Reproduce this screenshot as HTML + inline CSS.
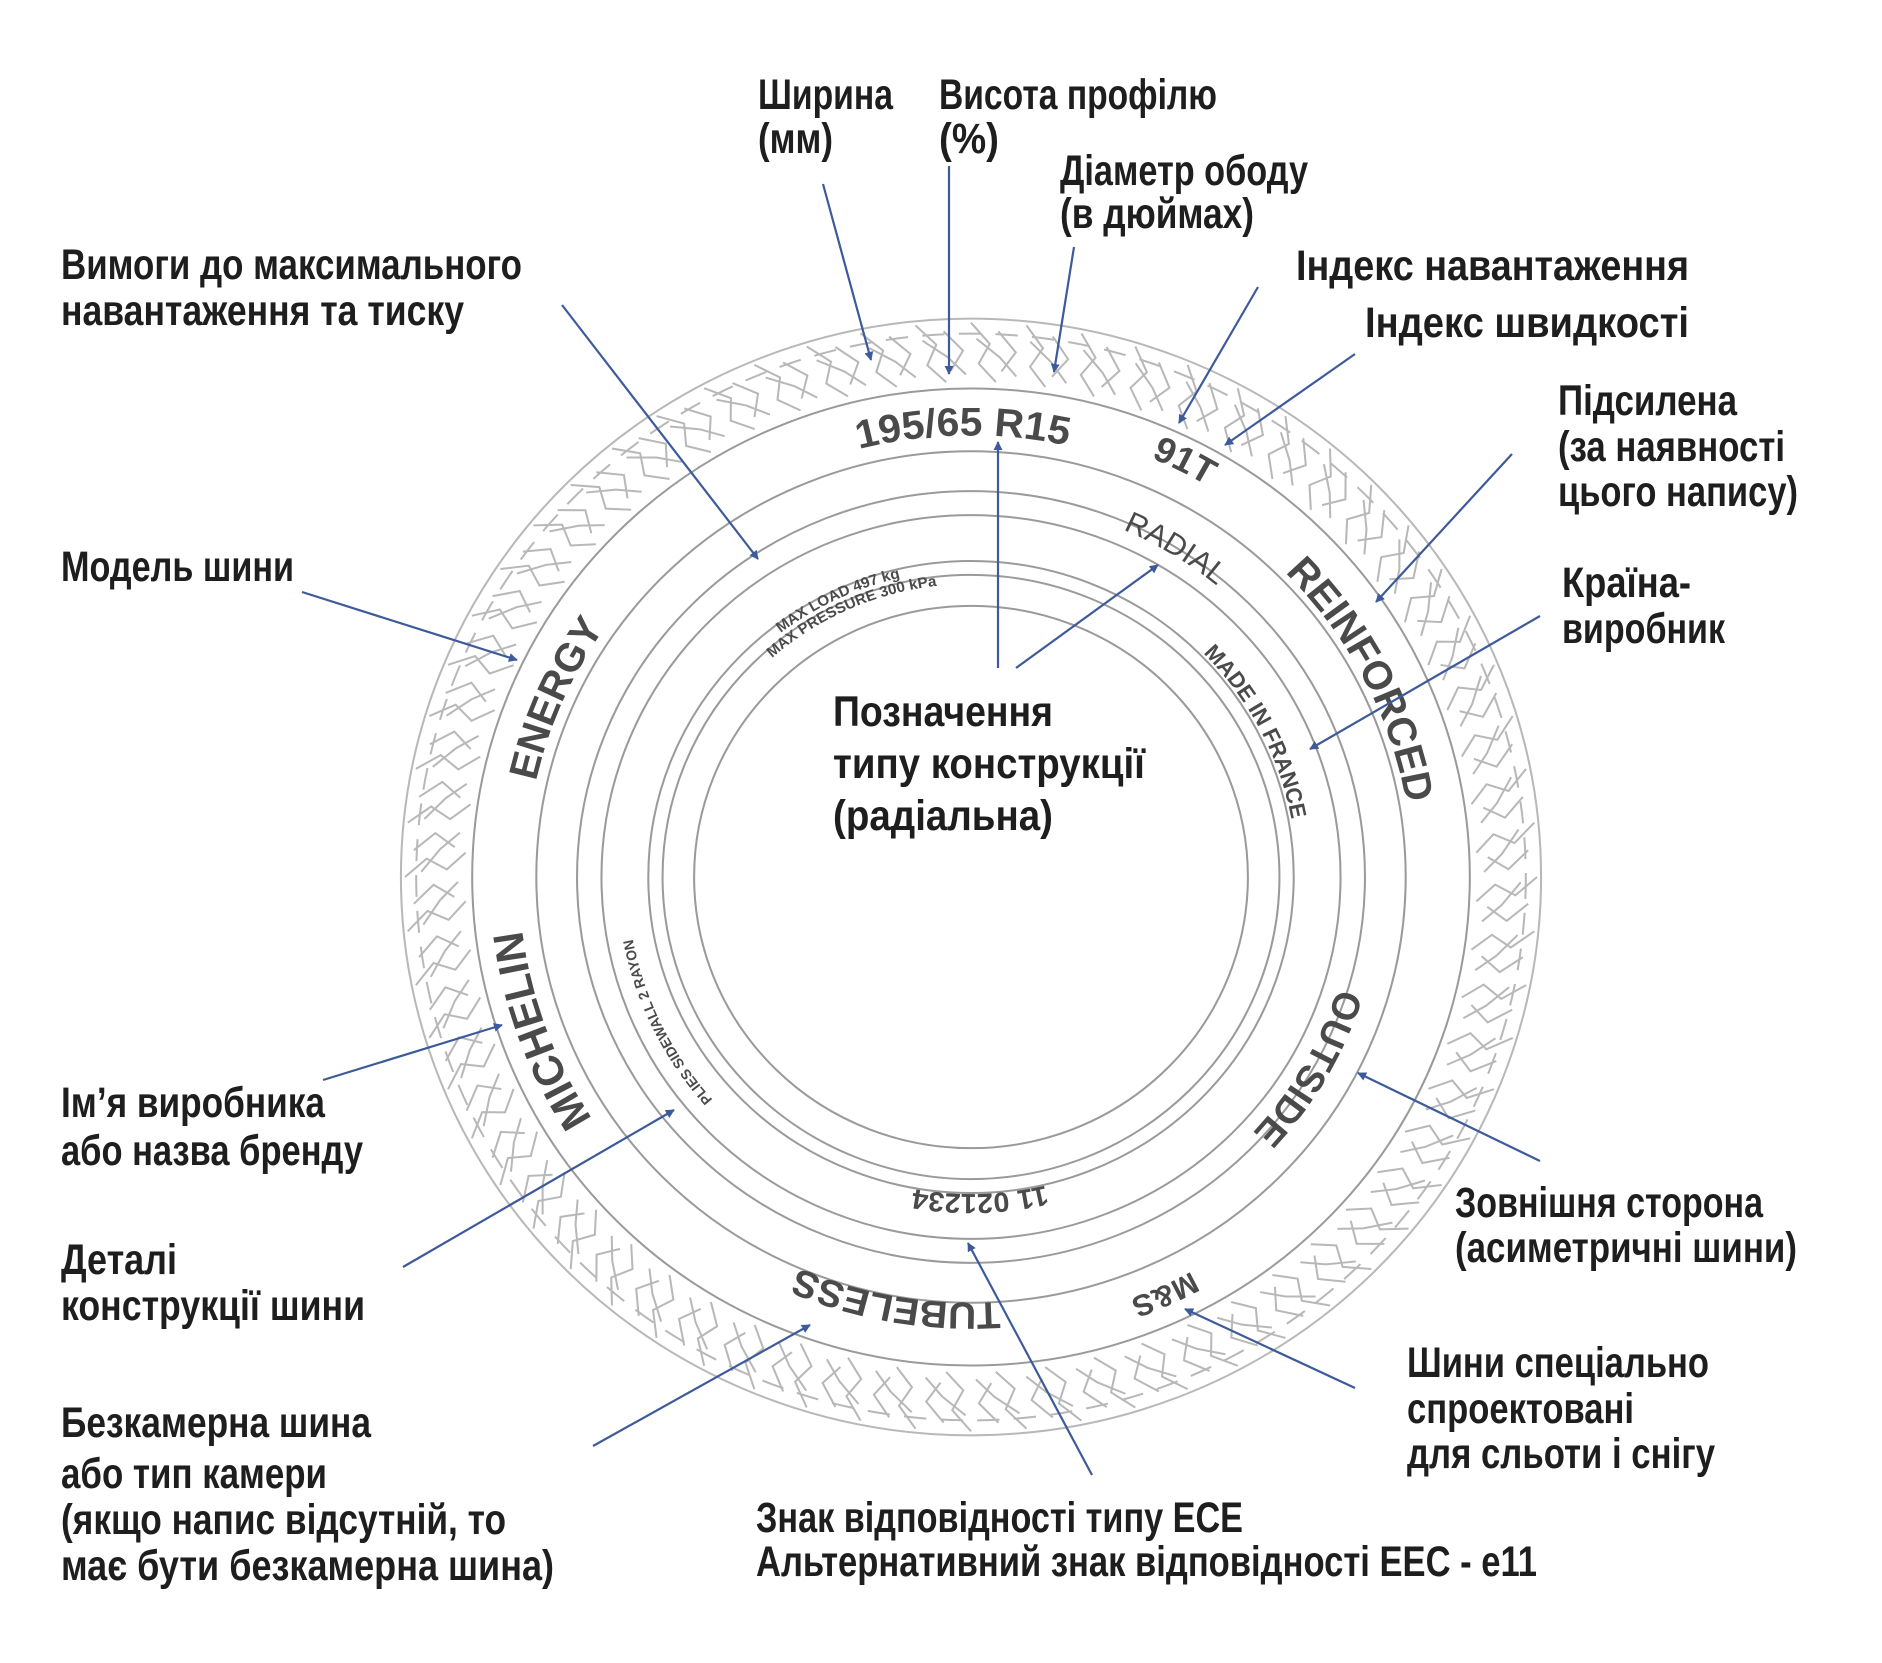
<!DOCTYPE html>
<html><head><meta charset="utf-8">
<style>
html,body{margin:0;padding:0;background:#fff;}
svg{display:block;}
.l{font-family:"Liberation Sans",sans-serif;font-weight:bold;font-size:43px;fill:#1e1e1e;}
.t{font-family:"Liberation Sans",sans-serif;font-weight:bold;fill:#4a4a4a;}
.a{stroke:#3d5a9a;stroke-width:2.2;fill:none;marker-end:url(#ah);}
</style></head>
<body>
<svg id="s" width="1882" height="1663" viewBox="0 0 1882 1663" xmlns="http://www.w3.org/2000/svg">
<defs>
<marker id="ah" viewBox="0 0 10 10" refX="9" refY="5" markerWidth="9" markerHeight="9" markerUnits="userSpaceOnUse" orient="auto"><path d="M0,0 L10,5 L0,10 z" fill="#3d5a9a"/></marker>
</defs>
<rect width="1882" height="1663" fill="#fff"/>
<g transform="translate(971,877) scale(1.018,0.997) translate(-968,-877)">
<g id="tire" fill="none" stroke="#b8b8b8" stroke-width="2">
<circle cx="968" cy="877" r="560"/>
<circle cx="968" cy="877" r="490" stroke="#9a9a9a"/>
<circle cx="968" cy="877" r="427" stroke="#9a9a9a"/>
<circle cx="968" cy="877" r="387" stroke="#9a9a9a"/>
<circle cx="968" cy="877" r="363" stroke="#9a9a9a"/>
<circle cx="968" cy="877" r="317" stroke="#9a9a9a"/>
<circle cx="968" cy="877" r="303" stroke="#9a9a9a"/>
<circle cx="968" cy="877" r="272" stroke="#9a9a9a"/>
<g id="lugs"></g>
</g>
<defs>
<path id="p195" d="M968,434 A443,443 0 1 1 968,1320 A443,443 0 1 1 968,434 A443,443 0 1 1 968,1320 A443,443 0 1 1 968,434"/>
<path id="p91" d="M968,421 A456,456 0 1 1 968,1333 A456,456 0 1 1 968,421 A456,456 0 1 1 968,1333 A456,456 0 1 1 968,421"/>
<path id="prad" d="M968,498 A379,379 0 1 1 968,1256 A379,379 0 1 1 968,498 A379,379 0 1 1 968,1256 A379,379 0 1 1 968,498"/>
<path id="prein" d="M968,443 A434,434 0 1 1 968,1311 A434,434 0 1 1 968,443 A434,434 0 1 1 968,1311 A434,434 0 1 1 968,443"/>
<path id="pmade" d="M968,557 A320,320 0 1 1 968,1197 A320,320 0 1 1 968,557 A320,320 0 1 1 968,1197 A320,320 0 1 1 968,557"/>
<path id="pout" d="M968,500 A377,377 0 1 1 968,1254 A377,377 0 1 1 968,500 A377,377 0 1 1 968,1254 A377,377 0 1 1 968,500"/>
<path id="pms" d="M968,426 A451,451 0 1 1 968,1328 A451,451 0 1 1 968,426 A451,451 0 1 1 968,1328 A451,451 0 1 1 968,426"/>
<path id="p11" d="M968,559 A318,318 0 1 1 968,1195 A318,318 0 1 1 968,559 A318,318 0 1 1 968,1195 A318,318 0 1 1 968,559"/>
<path id="ptub" d="M968,450 A427,427 0 1 1 968,1304 A427,427 0 1 1 968,450 A427,427 0 1 1 968,1304 A427,427 0 1 1 968,450"/>
<path id="pplies" d="M968,539 A338,338 0 1 1 968,1215 A338,338 0 1 1 968,539 A338,338 0 1 1 968,1215 A338,338 0 1 1 968,539"/>
<path id="pmich" d="M968,433 A444,444 0 1 1 968,1321 A444,444 0 1 1 968,433 A444,444 0 1 1 968,1321 A444,444 0 1 1 968,433"/>
<path id="pen" d="M968,439 A438,438 0 1 1 968,1315 A438,438 0 1 1 968,439 A438,438 0 1 1 968,1315 A438,438 0 1 1 968,439"/>
<path id="pml1" d="M968,569 A308,308 0 1 1 968,1185 A308,308 0 1 1 968,569 A308,308 0 1 1 968,1185 A308,308 0 1 1 968,569"/>
<path id="pml2" d="M968,583 A294,294 0 1 1 968,1171 A294,294 0 1 1 968,583 A294,294 0 1 1 968,1171 A294,294 0 1 1 968,583"/>
</defs>
<g class="t" text-anchor="middle">
<text font-size="40"><textPath href="#p195" startOffset="49.86%">195/65 R15</textPath></text>
<text font-size="36"><textPath href="#p91" startOffset="53.71%">91T</textPath></text>
<text font-size="30" font-weight="normal"><textPath href="#prad" startOffset="54.36%">RADIAL</textPath></text>
<text font-size="40"><textPath href="#prein" startOffset="58.71%">REINFORCED</textPath></text>
<text font-size="22"><textPath href="#pmade" startOffset="58.68%">MADE IN FRANCE</textPath></text>
<text font-size="38"><textPath href="#pout" startOffset="66.67%">OUTSIDE</textPath></text>
<text font-size="30"><textPath href="#pms" startOffset="71.6%">M&amp;S</textPath></text>
<text font-size="28"><textPath href="#p11" startOffset="74.78%">11 021234</textPath></text>
<text font-size="38"><textPath href="#ptub" startOffset="26.36%">TUBELESS</textPath></text>
<text font-size="14"><textPath href="#pplies" startOffset="33.89%">PLIES SIDEWALL 2 RAYON</textPath></text>
<text font-size="42"><textPath href="#pmich" startOffset="34.72%">MICHELIN</textPath></text>
<text font-size="40"><textPath href="#pen" startOffset="40.79%">ENERGY</textPath></text>
<text font-size="15"><textPath href="#pml1" startOffset="46.5%">MAX LOAD 497 kg</textPath></text>
<text font-size="15"><textPath href="#pml2" startOffset="46.65%">MAX PRESSURE 300 kPa</textPath></text>
</g>
</g>
<g transform="translate(-6,-3)">
<line class="a" x1="829" y1="187" x2="877" y2="363"/>
<line class="a" x1="955" y1="169" x2="955" y2="377"/>
<line class="a" x1="1080" y1="250" x2="1060" y2="375"/>
<line class="a" x1="1264" y1="290" x2="1185" y2="426"/>
<line class="a" x1="1361" y1="357" x2="1231" y2="448"/>
<line class="a" x1="1518" y1="457" x2="1382" y2="605"/>
<line class="a" x1="1546" y1="619" x2="1316" y2="752"/>
<line class="a" x1="1004" y1="671" x2="1004" y2="445"/>
<line class="a" x1="1022" y1="671" x2="1164" y2="568"/>
<line class="a" x1="568" y1="308" x2="764" y2="562"/>
<line class="a" x1="308" y1="595" x2="523" y2="663"/>
<line class="a" x1="329" y1="1083" x2="508" y2="1028"/>
<line class="a" x1="409" y1="1270" x2="680" y2="1113"/>
<line class="a" x1="599" y1="1449" x2="816" y2="1328"/>
<line class="a" x1="1098" y1="1478" x2="974" y2="1246"/>
<line class="a" x1="1546" y1="1164" x2="1364" y2="1076"/>
<line class="a" x1="1361" y1="1391" x2="1191" y2="1312"/>
</g>
<g class="l" transform="translate(-2,-2)">
<text x="760" y="111" textLength="135" lengthAdjust="spacingAndGlyphs">Ширина</text>
<text x="760" y="155" textLength="75" lengthAdjust="spacingAndGlyphs">(мм)</text>
<text x="941" y="111" textLength="278" lengthAdjust="spacingAndGlyphs">Висота профілю</text>
<text x="941" y="155" textLength="60" lengthAdjust="spacingAndGlyphs">(%)</text>
<text x="1062" y="187" textLength="248" lengthAdjust="spacingAndGlyphs">Діаметр ободу</text>
<text x="1062" y="230" textLength="194" lengthAdjust="spacingAndGlyphs">(в дюймах)</text>
<text x="63" y="281" textLength="461" lengthAdjust="spacingAndGlyphs">Вимоги до максимального</text>
<text x="63" y="327" textLength="403" lengthAdjust="spacingAndGlyphs">навантаження та тиску</text>
<text x="1298" y="282" textLength="393" lengthAdjust="spacingAndGlyphs">Індекс навантаження</text>
<text x="1367" y="339" textLength="324" lengthAdjust="spacingAndGlyphs">Індекс швидкості</text>
<text x="1560" y="417" textLength="179" lengthAdjust="spacingAndGlyphs">Підсилена</text>
<text x="1560" y="463" textLength="227" lengthAdjust="spacingAndGlyphs">(за наявності</text>
<text x="1560" y="508" textLength="240" lengthAdjust="spacingAndGlyphs">цього напису)</text>
<text x="63" y="583" textLength="233" lengthAdjust="spacingAndGlyphs">Модель шини</text>
<text x="1564" y="599" textLength="129" lengthAdjust="spacingAndGlyphs">Країна-</text>
<text x="1564" y="645" textLength="163" lengthAdjust="spacingAndGlyphs">виробник</text>
<text x="835" y="728" textLength="220" lengthAdjust="spacingAndGlyphs">Позначення</text>
<text x="835" y="780" textLength="312" lengthAdjust="spacingAndGlyphs">типу конструкції</text>
<text x="835" y="832" textLength="220" lengthAdjust="spacingAndGlyphs">(радіальна)</text>
<text x="63" y="1119" textLength="264" lengthAdjust="spacingAndGlyphs">Ім’я виробника</text>
<text x="63" y="1167" textLength="302" lengthAdjust="spacingAndGlyphs">або назва бренду</text>
<text x="63" y="1276" textLength="116" lengthAdjust="spacingAndGlyphs">Деталі</text>
<text x="63" y="1322" textLength="304" lengthAdjust="spacingAndGlyphs">конструкції шини</text>
<text x="63" y="1439" textLength="310" lengthAdjust="spacingAndGlyphs">Безкамерна шина</text>
<text x="63" y="1490" textLength="266" lengthAdjust="spacingAndGlyphs">або тип камери</text>
<text x="63" y="1536" textLength="445" lengthAdjust="spacingAndGlyphs">(якщо напис відсутній, то</text>
<text x="63" y="1582" textLength="493" lengthAdjust="spacingAndGlyphs">має  бути безкамерна шина)</text>
<text x="758" y="1534" textLength="487" lengthAdjust="spacingAndGlyphs">Знак відповідності типу ECE</text>
<text x="758" y="1578" textLength="781" lengthAdjust="spacingAndGlyphs">Альтернативний знак відповідності EEC - e11</text>
<text x="1457" y="1219" textLength="308" lengthAdjust="spacingAndGlyphs">Зовнішня сторона</text>
<text x="1457" y="1264" textLength="342" lengthAdjust="spacingAndGlyphs">(асиметричні шини)</text>
<text x="1409" y="1379" textLength="302" lengthAdjust="spacingAndGlyphs">Шини спеціально</text>
<text x="1409" y="1425" textLength="227" lengthAdjust="spacingAndGlyphs">спроектовані</text>
<text x="1409" y="1470" textLength="308" lengthAdjust="spacingAndGlyphs">для сльоти і снігу</text>
</g>
</svg>
<script>
(function(){
var g=document.getElementById('lugs'),ns='http://www.w3.org/2000/svg',cx=968,cy=877,N=64;
function P(r,a){a=a*Math.PI/180;return (cx+r*Math.sin(a)).toFixed(1)+','+(cy-r*Math.cos(a)).toFixed(1);}
for(var i=0;i<N;i++){
 var a=i*360/N,d=360/N;
 var p=document.createElementNS(ns,'path');
 p.setAttribute('d','M'+P(556,a)+' L'+P(535,a+d*0.35)+' L'+P(515,a+d*0.15)+' L'+P(497,a+d*0.5)
 +' M'+P(548,a+d*0.5)+' L'+P(528,a+d*0.85)+' L'+P(508,a+d*0.6)
 +' M'+P(540,a+d*0.1)+' L'+P(522,a+d*0.55)+' L'+P(504,a+d*0.9));
 g.appendChild(p);
}
var c=document.createElementNS(ns,'circle');c.setAttribute('cx',cx);c.setAttribute('cy',cy);c.setAttribute('r',545);c.setAttribute('stroke-dasharray','22 14');g.appendChild(c);
})();
</script>
</body></html>
